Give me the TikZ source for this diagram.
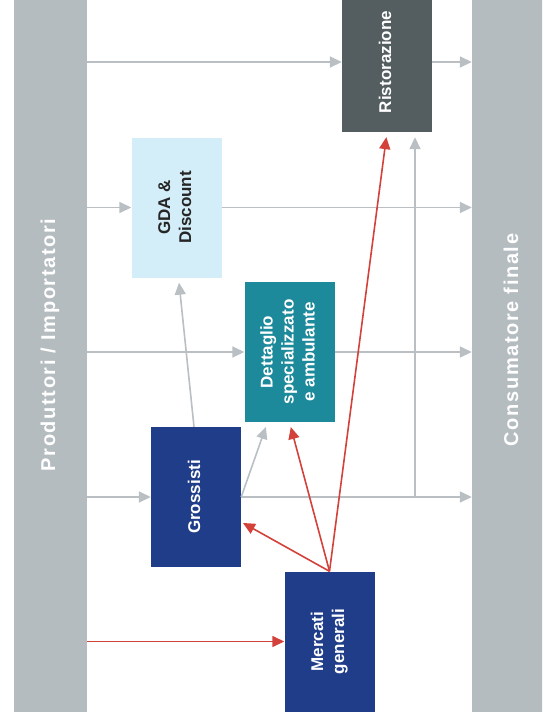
\documentclass[tikz,border=0pt]{standalone}
\usepackage{fontspec}
\usepackage{graphicx}
\setmainfont{Liberation Sans}
\newfontfamily\spacedfont[LetterSpace=8]{Liberation Sans}
\usetikzlibrary{arrows.meta}

\definecolor{bargray}{HTML}{B5BCBF}
\definecolor{linegray}{HTML}{B9BFC2}
\definecolor{boxnavy}{HTML}{1F3D88}
\definecolor{boxteal}{HTML}{1D8A9C}
\definecolor{boxslate}{HTML}{545D60}
\definecolor{boxcyan}{HTML}{D3EEF8}
\definecolor{flowred}{HTML}{D2423A}

\newcommand{\vtext}[1]{\rotatebox{90}{\begin{tabular}{@{}c@{}}#1\end{tabular}}}

\begin{document}
\begin{tikzpicture}[x=1pt, y=-1pt,
    box/.style={minimum width=90pt, minimum height=140pt, inner sep=0pt,
      text=white, font=\bfseries\fontsize{17}{21}\selectfont},
    bar/.style={fill=bargray, minimum width=73pt, minimum height=712pt, inner sep=0pt},
    barlabel/.style={text=white, rotate=90, font=\spacedfont\bfseries\fontsize{20}{24}\selectfont},
    flow/.style={draw=linegray, line width=1.6pt, -{Triangle[length=12pt,width=11pt]}},
    supply/.style={draw=flowred, line width=1.6pt, -{Triangle[length=12pt,width=11pt]}}]
    \useasboundingbox (0,0) rectangle (542,728);
    \clip (0,0) rectangle (542,728);

    % the two sides
    \node[bar] (prod) at (50.5,356) {};
    \node[bar, minimum width=72pt] (cons) at (508,356) {};
    \node[barlabel] (prodlabel) at (50,345) {Produttori / Importatori};
    \node[barlabel] (conslabel) at (511,340) {Consumatore finale};

    % channels
    \node[box, fill=boxslate] (ristor) at (387,62) {\vtext{Ristorazione}};
    \node[box, fill=boxcyan, text=black!85] (gda) at (176.5,207.5) {\vtext{GDA \&\\Discount}};
    \node[box, fill=boxteal] (dett) at (289.5,352) {\vtext{Dettaglio\\specializzato\\e ambulante}};
    \node[box, fill=boxnavy] (gross) at (196,497) {\vtext{Grossisti}};
    \node[box, fill=boxnavy] (mercati) at (329.5,641.5) {\vtext{Mercati\\generali}};
    \coordinate (split) at (415,497);

    \foreach \chan in {ristor, gda, dett, gross} {
      \draw[flow] (prod.east |- \chan) -- (\chan.west);
      \draw[flow] (\chan.east) -- (cons.west |- \chan);
    }
    \draw[flow, shorten >=5pt] (split) -- (split |- ristor.south);
    \draw[flow, shorten >=5pt] ([xshift=-2pt]gross.north) -- ([xshift=2pt]gda.south);
    \draw[flow, shorten >=5pt] (gross.east) -- ([xshift=-22pt]dett.south);

    \draw[supply] (prod.east |- mercati) -- (mercati.west);
    \draw[supply, shorten >=2pt] (mercati.north) -- ([yshift=-25pt]gross.east);
    \draw[supply, shorten >=5pt] (mercati.north) -- (dett.south);
    \draw[supply, shorten >=5pt] (mercati.north) -- (ristor.south);
\end{tikzpicture}
\end{document}
